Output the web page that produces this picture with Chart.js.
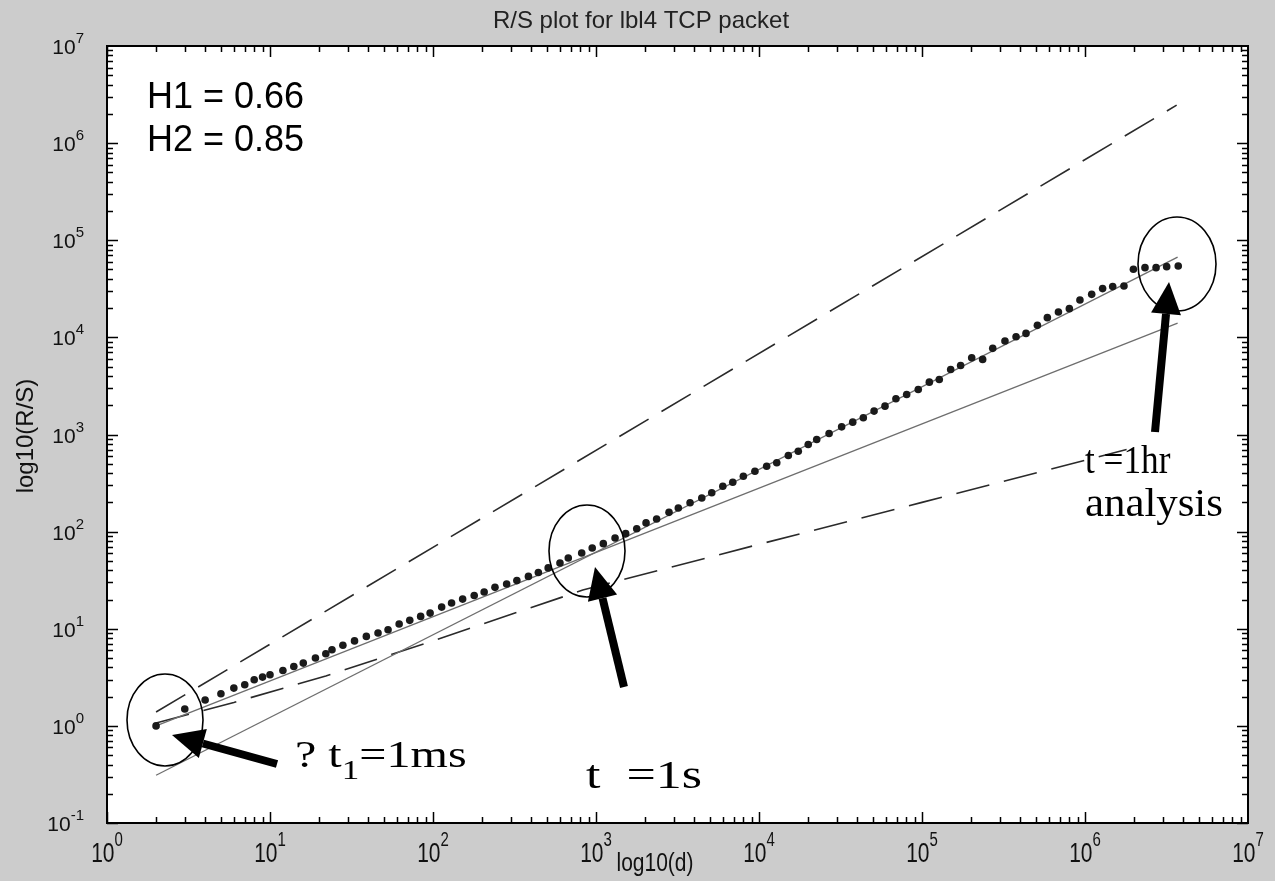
<!DOCTYPE html>
<html>
<head>
<meta charset="utf-8">
<script src="https://cdn.jsdelivr.net/npm/chart.js@4.4.1/dist/chart.umd.min.js"></script>
<style>
  html, body { margin: 0; padding: 0; background: #cccccc; }
  canvas { display: block; }
</style>
</head>
<body>
<canvas id="rsChart" width="1275" height="881"></canvas>
<script>
// R/S points (d, R/S)
const dValues = [2,3,4,5,6,7,8,9,10,12,14,16,19,22,24,28,33,39,46,53,62,72,84,96,113,130,152,179,206,240,283,327,385,443,509,601,676,817,948,1109,1309,1521,1778,2028,2355,2805,3199,3776,4457,5129,5998,6902,8017,9441,11143,12853,15136,17418,20045,22594,26915,32137,37584,43652,50816,59293,69183,80538,94842,110917,127644,149968,172584,201837,235505,271644,322849,377572,434510,510505,587489,687068,801678,931108,1099005,1282331,1479108,1733804,1981527,2333458,2728977,3169786,3732502];
const rsValues = [1,1.49,1.85,2.14,2.45,2.65,2.98,3.18,3.36,3.72,4.08,4.43,4.99,5.52,6.08,6.76,7.5,8.34,9.04,9.77,11.2,12.2,13.4,14.5,16.7,18.4,20.2,22.0,23.9,26.7,28.9,31.3,34.6,38.0,42.3,47.5,53.6,60.3,67.8,75.2,86.1,95.3,107,123,135,158,175,198,222,251,293,322,372,419,471,511,608,673,789,887,1023,1199,1340,1486,1742,1959,2333,2582,2911,3459,3690,4677,5140,6166,5929,7709,9162,10162,10990,13305,15959,18239,19770,24266,27733,31769,33343,33810,50234,52240,52240,53456,54325];

// fitted lines and reference lines
const h1D = [2, 3.7e6];
const h1RS = [1.0, 1.4e4];
const h2D = [2, 3.7e6];
const h2RS = [0.31, 6.7e4];
const upperD = [2, 3.65e6];
const upperRS = [1.39, 2.46e6];
const lowerD = [2, 6, 22, 100, 830, 1e4, 1e5, 1.8e6];
const lowerRS = [1.07, 1.74, 3.27, 7.5, 25, 74, 200, 700];

const xTickExp = [0,1,2,3,4,5,6,7];
const yTickExp = [-1,0,1,2,3,4,5,6,7];

const pts = (xs, ys) => xs.map((x, i) => ({x: x, y: ys[i]}));

const paper = {
  id: 'paper',
  beforeDraw(chart) {
    const ctx = chart.ctx, a = chart.chartArea;
    ctx.save();
    ctx.fillStyle = '#cccccc';
    ctx.fillRect(0, 0, chart.width, chart.height);
    ctx.fillStyle = '#ffffff';
    ctx.fillRect(a.left, a.top, a.right - a.left, a.bottom - a.top);
    ctx.restore();
  }
};

const frame = {
  id: 'frame',
  afterDraw(chart) {
    const ctx = chart.ctx;
    const a = chart.chartArea;
    const sx = chart.scales.x, sy = chart.scales.y;
    ctx.save();
    // box
    ctx.strokeStyle = '#000';
    ctx.lineWidth = 2;
    ctx.strokeRect(a.left, a.top, a.right - a.left, a.bottom - a.top);
    ctx.lineWidth = 1.5;
    // ticks on all sides
    for (let k = 0; k < 7; k++) {
      for (let m = 1; m <= 9; m++) {
        const px = Math.round(sx.getPixelForValue(m * Math.pow(10, k))) + 0.5;
        const len = m === 1 ? 11 : 6;
        ctx.beginPath();
        ctx.moveTo(px, a.bottom); ctx.lineTo(px, a.bottom - len);
        ctx.moveTo(px, a.top); ctx.lineTo(px, a.top + len);
        ctx.stroke();
      }
    }
    for (let k = -1; k < 7; k++) {
      for (let m = 1; m <= 9; m++) {
        const py = Math.round(sy.getPixelForValue(m * Math.pow(10, k))) + 0.5;
        const len = m === 1 ? 11 : 6;
        ctx.beginPath();
        ctx.moveTo(a.left, py); ctx.lineTo(a.left + len, py);
        ctx.moveTo(a.right, py); ctx.lineTo(a.right - len, py);
        ctx.stroke();
      }
    }
    // tick labels
    ctx.fillStyle = '#111';
    const base = '21px "Liberation Sans", Arial, sans-serif';
    const sup = '15px "Liberation Sans", Arial, sans-serif';
    xTickExp.forEach(e => {
      const px = sx.getPixelForValue(Math.pow(10, e));
      ctx.font = base;
      const w1 = ctx.measureText('10').width;
      ctx.font = sup;
      const w2 = ctx.measureText(String(e)).width;
      const x0 = px - (w1 + w2) / 2;
      ctx.save();
      ctx.translate(0, 862);
      ctx.scale(1, 1.3);
      ctx.font = base;
      ctx.textBaseline = 'alphabetic';
      ctx.fillText('10', x0, 0);
      ctx.font = sup;
      ctx.fillText(String(e), x0 + w1, -12);
      ctx.restore();
    });
    yTickExp.forEach(e => {
      const py = sy.getPixelForValue(Math.pow(10, e));
      ctx.font = sup;
      const w2 = ctx.measureText(String(e)).width;
      ctx.font = base;
      const w1 = ctx.measureText('10').width;
      const x0 = 84 - w2 - w1;
      ctx.textBaseline = 'alphabetic';
      ctx.fillText('10', x0, py + 8);
      ctx.font = sup;
      ctx.fillText(String(e), x0 + w1, py - 3);
    });
    // axis titles
    ctx.font = '21px "Liberation Sans", Arial, sans-serif';
    ctx.textAlign = 'center';
    ctx.save();
    ctx.translate(655, 871);
    ctx.scale(1, 1.25);
    ctx.fillText('log10(d)', 0, 0);
    ctx.restore();
    ctx.save();
    ctx.translate(33, 436);
    ctx.rotate(-Math.PI / 2);
    ctx.font = '24px "Liberation Sans", Arial, sans-serif';
    ctx.fillText('log10(R/S)', 0, 0);
    ctx.restore();
    ctx.fillStyle = '#222';
    ctx.font = '24px "Liberation Sans", Arial, sans-serif';
    ctx.fillText('R/S plot for lbl4 TCP packet', 641, 28);
    // H values
    ctx.textAlign = 'left';
    ctx.fillStyle = '#000';
    ctx.font = '36px "Liberation Sans", Arial, sans-serif';
    ctx.fillText('H1 = 0.66', 147, 108);
    ctx.fillText('H2 = 0.85', 147, 151);
    ctx.restore();
  }
};

const notes = {
  id: 'notes',
  afterDraw(chart) {
    const ctx = chart.ctx;
    ctx.save();
    ctx.strokeStyle = '#000';
    ctx.fillStyle = '#000';
    // ellipses
    ctx.lineWidth = 1.6;
    [[165, 720, 38, 46], [587, 551, 38, 46], [1177, 264, 39, 47]].forEach(e => {
      ctx.beginPath();
      ctx.ellipse(e[0], e[1], e[2], e[3], 0, 0, Math.PI * 2);
      ctx.stroke();
    });
    // arrows
    const arrow = (x1, y1, x2, y2) => {
      const ang = Math.atan2(y2 - y1, x2 - x1);
      const hl = 32, hw = 15;
      const bx = x2 - hl * Math.cos(ang), by = y2 - hl * Math.sin(ang);
      ctx.lineWidth = 8;
      ctx.beginPath();
      ctx.moveTo(x1, y1); ctx.lineTo(bx, by);
      ctx.stroke();
      ctx.beginPath();
      ctx.moveTo(x2, y2);
      ctx.lineTo(bx + hw * Math.sin(ang), by - hw * Math.cos(ang));
      ctx.lineTo(bx - hw * Math.sin(ang), by + hw * Math.cos(ang));
      ctx.closePath();
      ctx.fill();
    };
    arrow(277, 764, 172, 735);
    arrow(624, 687, 595, 567);
    arrow(1155, 432, 1169, 282);
    // serif captions, stretched sideways
    const runs = (x, y, sxs, parts) => {
      ctx.save();
      ctx.translate(x, y);
      ctx.scale(sxs, 1);
      let cx = 0;
      parts.forEach(p => {
        ctx.font = p[1] + 'px "Liberation Serif", "Times New Roman", serif';
        ctx.fillText(p[0], cx, p[2] || 0);
        cx += ctx.measureText(p[0]).width;
      });
      ctx.restore();
    };
    runs(295, 767, 1.3, [['? t', 37], ['1', 27, 12], ['=1ms', 37]]);
    runs(586, 788, 1.3, [['t  =1s', 40]]);
    runs(1085, 473, 0.88, [['t =1hr', 40]]);
    runs(1085, 516, 1.07, [['analysis', 40]]);
    ctx.restore();
  }
};

new Chart(document.getElementById('rsChart'), {
  type: 'scatter',
  data: {
    datasets: [
      {
        label: 'R/S',
        data: pts(dValues, rsValues),
        showLine: false,
        pointRadius: 3.8,
        pointBackgroundColor: '#1a1a1a',
        pointBorderWidth: 0,
        order: 0
      },
      {
        label: 'H1 fit',
        data: pts(h1D, h1RS),
        showLine: true,
        borderColor: '#6e6e6e',
        borderWidth: 1.3,
        pointRadius: 0,
        order: 1
      },
      {
        label: 'H2 fit',
        data: pts(h2D, h2RS),
        showLine: true,
        borderColor: '#6e6e6e',
        borderWidth: 1.3,
        pointRadius: 0,
        order: 2
      },
      {
        label: 'slope 1',
        data: pts(upperD, upperRS),
        showLine: true,
        borderColor: '#2a2a2a',
        borderWidth: 1.6,
        borderDash: [34, 15],
        pointRadius: 0,
        order: 3
      },
      {
        label: 'slope 0.5',
        data: pts(lowerD, lowerRS),
        showLine: true,
        borderColor: '#2a2a2a',
        borderWidth: 1.6,
        borderDash: [34, 15],
        pointRadius: 0,
        order: 4
      }
    ]
  },
  options: {
    responsive: false,
    animation: false,
    layout: { padding: { top: 46, right: 27, left: 0, bottom: 0 } },
    plugins: {
      legend: { display: false },
      tooltip: { enabled: false }
    },
    scales: {
      x: {
        type: 'logarithmic', min: 1, max: 1e7,
        ticks: { display: false },
        grid: { display: false, drawTicks: false },
        border: { display: false },
        afterFit: s => { s.height = 58; }
      },
      y: {
        type: 'logarithmic', min: 0.1, max: 1e7,
        ticks: { display: false },
        grid: { display: false, drawTicks: false },
        border: { display: false },
        afterFit: s => { s.width = 107; }
      }
    }
  },
  plugins: [paper, frame, notes]
});
</script>
</body>
</html>
